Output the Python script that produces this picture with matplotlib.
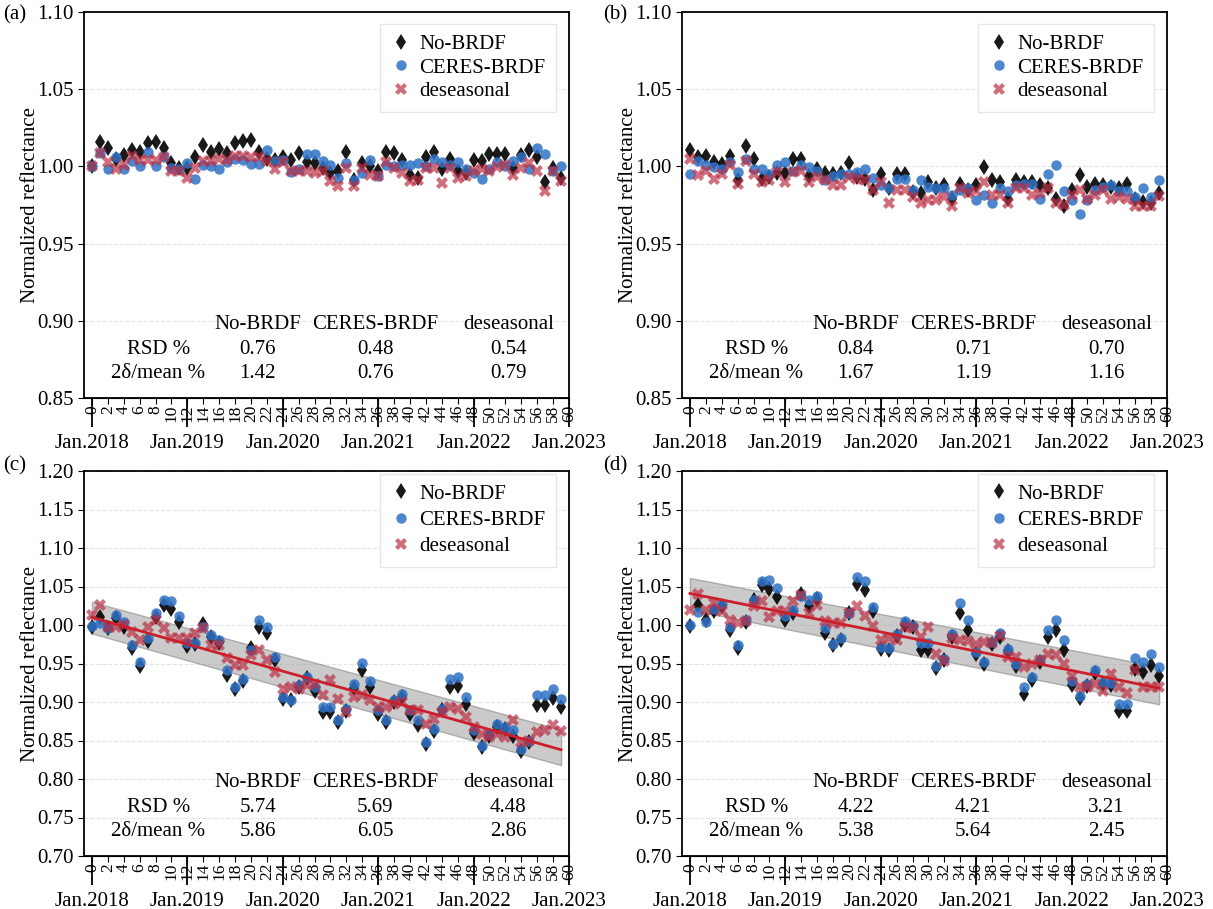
import numpy as np
import matplotlib
matplotlib.use("Agg")
from matplotlib import pyplot as plt
from matplotlib.patches import Rectangle

plt.rcParams['font.family'] = ['Liberation Serif', 'DejaVu Serif']

# month index 0..59 (Jan.2018 .. Dec.2022)
months = np.arange(60)

# ---- panel (a) ----
a_nobrdf = [1.000, 1.0156, 1.0122, 1.005, 1.0075, 1.0103, 1.0096, 1.015, 1.0156, 1.0118,
            1.002, 0.999, 0.999, 1.006, 1.014, 1.0096, 1.011, 1.009, 1.015, 1.0165,
            1.017, 1.0096, 1.005, 1.004, 1.006, 1.004, 1.009, 1.003, 1.002, 0.999,
            0.996, 0.997, 1.0096, 0.9915, 1.002, 1.000, 0.997, 1.0096, 1.0085, 1.004,
            0.9947, 0.9925, 1.006, 1.0096, 0.998, 1.005, 0.9968, 0.996, 1.004, 1.0036,
            1.008, 1.008, 1.008, 0.999, 1.0075, 1.0107, 1.0064, 0.990, 0.999, 0.9925]
a_ceres = [1.000, 1.0085, 0.998, 1.006, 0.998, 1.0036, 1.000, 1.0096, 1.000, 1.006,
           0.999, 0.998, 1.002, 0.992, 1.001, 1.000, 0.998, 1.003, 1.005, 1.004,
           1.0015, 1.0015, 1.0107, 1.0036, 1.004, 0.9964, 0.998, 1.008, 1.008, 1.0036,
           1.001, 0.9925, 1.002, 0.9915, 0.9957, 1.004, 0.9936, 1.001, 1.000, 1.0006,
           1.001, 1.002, 1.000, 1.005, 1.003, 1.0006, 1.003, 0.998, 0.9957, 0.992,
           0.998, 1.003, 1.000, 1.0036, 1.006, 0.998, 1.012, 1.008, 0.997, 1.000]
a_deseason = [1.000, 1.0085, 1.003, 0.998, 1.001, 1.007, 1.004, 1.004, 1.004, 1.006,
              0.997, 0.9968, 0.9925, 0.999, 1.0036, 1.0036, 1.005, 1.004, 1.007, 1.007,
              1.006, 1.006, 1.0036, 0.998, 1.003, 0.9968, 0.997, 0.9968, 0.9957, 0.9968,
              0.9904, 0.987, 0.999, 0.987, 0.999, 0.9947, 0.9936, 1.003, 0.999, 0.9957,
              0.9904, 0.9915, 0.999, 0.999, 0.989, 0.999, 0.9925, 0.9936, 0.9968, 0.998,
              0.9968, 0.9994, 1.001, 0.9947, 0.999, 1.002, 0.997, 0.984, 0.9968, 0.9904]

# ---- panel (b) ----
b_nobrdf = [1.0103, 1.006, 1.007, 1.003, 1.0017, 1.007, 0.991, 1.0135, 1.005, 0.992,
            0.993, 0.996, 0.996, 1.005, 1.005, 0.994, 0.9985, 0.996, 0.995, 0.996,
            1.002, 0.993, 0.992, 0.9846, 0.995, 0.9857, 0.995, 0.995, 0.9835, 0.9825,
            0.990, 0.9857, 0.9878, 0.979, 0.9889, 0.9846, 0.9878, 0.9996, 0.991, 0.990,
            0.979, 0.991, 0.990, 0.990, 0.9878, 0.9857, 0.979, 0.9746, 0.9846, 0.9947,
            0.9868, 0.9889, 0.9882, 0.9868, 0.9857, 0.9889, 0.979, 0.977, 0.976, 0.9825]
b_ceres = [0.9953, 1.0038, 1.0006, 0.9996, 0.9985, 1.003, 0.9964, 1.005, 0.9985, 0.9985,
           0.9953, 1.0006, 1.003, 0.997, 1.0006, 0.9996, 0.997, 0.991, 0.994, 0.9953,
           0.9953, 0.9964, 0.998, 0.9925, 0.9878, 0.986, 0.992, 0.9917, 0.985, 0.991,
           0.9868, 0.9857, 0.986, 0.9814, 0.9846, 0.9857, 0.978, 0.9814, 0.976, 0.986,
           0.984, 0.9878, 0.9889, 0.9889, 0.979, 0.9953, 1.0006, 0.984, 0.978, 0.969,
           0.978, 0.9846, 0.9868, 0.988, 0.984, 0.984, 0.980, 0.9857, 0.980, 0.9915]
b_deseason = [1.005, 0.9947, 0.997, 0.992, 0.9953, 1.0006, 0.9889, 1.0038, 0.9953, 0.990,
              0.991, 0.9964, 0.990, 0.9964, 0.997, 0.990, 0.993, 0.991, 0.9878, 0.9878,
              0.993, 0.992, 0.991, 0.9846, 0.990, 0.976, 0.9846, 0.9846, 0.980, 0.976,
              0.978, 0.978, 0.980, 0.9746, 0.9857, 0.9825, 0.984, 0.990, 0.9814, 0.9814,
              0.976, 0.9857, 0.9857, 0.9814, 0.9825, 0.9857, 0.976, 0.975, 0.9814, 0.9846,
              0.979, 0.9814, 0.9846, 0.979, 0.980, 0.979, 0.9746, 0.9746, 0.9746, 0.981]

# ---- panel (c) ----
c_nobrdf = [0.998, 1.010, 0.996, 1.009, 0.998, 0.970, 0.947, 0.979, 1.010, 1.026,
            1.021, 1.004, 0.973, 0.975, 1.001, 0.985, 0.977, 0.935, 0.917, 0.927,
            0.970, 0.998, 0.990, 0.955, 0.904, 0.902, 0.920, 0.931, 0.914, 0.887,
            0.887, 0.874, 0.888, 0.918, 0.941, 0.920, 0.885, 0.874, 0.900, 0.906,
            0.885, 0.870, 0.845, 0.862, 0.889, 0.920, 0.921, 0.897, 0.860, 0.842,
            0.856, 0.868, 0.865, 0.856, 0.836, 0.848, 0.896, 0.896, 0.905, 0.893]
c_ceres = [0.9987, 1.002, 0.9957, 1.013, 1.0035, 0.974, 0.952, 0.983, 1.015, 1.033,
           1.031, 1.012, 0.976, 0.977, 0.998, 0.987, 0.980, 0.941, 0.920, 0.930,
           0.967, 1.006, 0.998, 0.959, 0.907, 0.903, 0.922, 0.933, 0.920, 0.893,
           0.893, 0.876, 0.891, 0.924, 0.951, 0.927, 0.889, 0.876, 0.902, 0.910,
           0.889, 0.876, 0.848, 0.865, 0.891, 0.930, 0.933, 0.907, 0.863, 0.843,
           0.859, 0.872, 0.867, 0.864, 0.839, 0.849, 0.909, 0.909, 0.917, 0.904]
c_deseason = [1.013, 1.026, 0.998, 0.998, 1.000, 0.991, 0.980, 0.998, 1.006, 0.996,
              0.983, 0.983, 0.983, 0.989, 0.996, 0.974, 0.974, 0.957, 0.948, 0.948,
              0.961, 0.967, 0.954, 0.939, 0.917, 0.920, 0.917, 0.922, 0.924, 0.909,
              0.928, 0.904, 0.887, 0.906, 0.909, 0.902, 0.893, 0.893, 0.898, 0.900,
              0.889, 0.889, 0.872, 0.878, 0.887, 0.893, 0.891, 0.880, 0.867, 0.859,
              0.854, 0.859, 0.854, 0.876, 0.848, 0.850, 0.861, 0.863, 0.870, 0.862]
c_trend = [1.010, 0.838]          # fitted line at first / last month
c_band_hi = [1.030, 0.864]
c_band_lo = [0.989, 0.818]

# ---- panel (d) ----
d_nobrdf = [0.999, 1.026, 1.007, 1.018, 1.025, 0.993, 0.970, 1.004, 1.032, 1.052,
            1.047, 1.036, 1.006, 1.016, 1.040, 1.025, 1.034, 0.990, 0.974, 0.981,
            1.016, 1.053, 1.045, 1.018, 0.969, 0.968, 0.986, 1.000, 0.997, 0.967,
            0.967, 0.944, 0.955, 0.984, 1.016, 0.994, 0.962, 0.950, 0.975, 0.984,
            0.966, 0.947, 0.911, 0.929, 0.952, 0.984, 0.993, 0.968, 0.922, 0.905,
            0.921, 0.938, 0.924, 0.922, 0.888, 0.888, 0.943, 0.939, 0.948, 0.934]
d_ceres = [1.000, 1.017, 1.004, 1.021, 1.027, 0.997, 0.974, 1.007, 1.033, 1.057,
           1.058, 1.048, 1.012, 1.019, 1.038, 1.032, 1.038, 0.996, 0.975, 0.983,
           1.016, 1.062, 1.057, 1.023, 0.971, 0.970, 0.988, 1.005, 0.999, 0.976,
           0.977, 0.947, 0.956, 0.988, 1.029, 1.007, 0.965, 0.952, 0.978, 0.990,
           0.969, 0.949, 0.920, 0.932, 0.955, 0.994, 1.006, 0.981, 0.927, 0.908,
           0.923, 0.942, 0.926, 0.925, 0.897, 0.897, 0.957, 0.952, 0.962, 0.945]
d_deseason = [1.020, 1.040, 1.020, 1.028, 1.018, 1.007, 1.003, 1.005, 1.025, 1.031,
              1.010, 1.018, 1.018, 1.031, 1.039, 1.016, 1.026, 1.005, 1.003, 1.003,
              1.016, 1.025, 1.012, 0.999, 0.981, 0.983, 0.981, 0.997, 0.996, 0.984,
              0.997, 0.962, 0.953, 0.983, 0.981, 0.979, 0.975, 0.978, 0.977, 0.986,
              0.958, 0.958, 0.945, 0.949, 0.954, 0.962, 0.961, 0.949, 0.934, 0.919,
              0.919, 0.923, 0.914, 0.936, 0.919, 0.912, 0.942, 0.919, 0.919, 0.920]
d_trend = [1.041, 0.918]
d_band_hi = [1.061, 0.946]
d_band_lo = [1.020, 0.897]

stats_a = [["0.76", "0.48", "0.54"], ["1.42", "0.76", "0.79"]]
stats_b = [["0.84", "0.71", "0.70"], ["1.67", "1.19", "1.16"]]
stats_c = [["5.74", "5.69", "4.48"], ["5.86", "6.05", "2.86"]]
stats_d = [["4.22", "4.21", "3.21"], ["5.38", "5.64", "2.45"]]

series_names = ["No-BRDF", "CERES-BRDF", "deseasonal"]
row_names = ["RSD %", "2δ/mean %"]
jan_pos = [0, 12, 24, 36, 48, 60]
jan_labels = ["Jan.2018", "Jan.2019", "Jan.2020", "Jan.2021", "Jan.2022", "Jan.2023"]

BLUE = '#2f72c6'
RED = '#bb3044'
FS = 15

fig = plt.figure(figsize=(12.13, 9.09), dpi=100)
W, H = 1213, 909


def make_ax(left, top, right, bottom):
    return fig.add_axes([left / W, 1 - bottom / H, (right - left) / W, (bottom - top) / H])


def panel(ax, nob, cer, des, stats, ylim, yt, trend=None, hi=None, lo=None,
          leg_y=0.996, leg_sp=0.2):
    if trend is not None:
        ends = [months[0], months[-1]]
        ax.fill_between(ends, lo, hi, facecolor='#a0a0a0', edgecolor='#808080',
                        alpha=0.55, lw=1.0, zorder=1)
        ax.plot(ends, trend, color='#cc1f2c', lw=2.0, zorder=5)
    ax.plot(months, nob, 'd', color='k', ms=8.5, mew=0, alpha=0.9, label="No-BRDF", zorder=2)
    ax.plot(months, cer, 'o', color=BLUE, ms=7.5, mew=0, alpha=0.85, label="CERES-BRDF", zorder=3)
    ax.plot(months, des, 'X', color=RED, ms=8, mew=0, alpha=0.7, label="deseasonal", zorder=4)

    ax.set_xlim(-1, 60)
    ax.set_ylim(*ylim)
    ax.set_yticks(yt)
    ax.set_yticklabels([f"{v:.2f}" for v in yt])
    ax.set_xticks(np.arange(0, 61, 2))
    ax.tick_params(axis='x', labelrotation=90, labelsize=12.5, length=4, pad=1)
    ax.tick_params(axis='y', labelsize=FS, length=4)
    ax.yaxis.grid(True, color='#e4e4e4', ls='--', lw=0.8)
    ax.set_axisbelow(True)
    for s in ax.spines.values():
        s.set_linewidth(1.3)
    ax.set_ylabel("Normalized reflectance", fontsize=FS, labelpad=-2)

    sec = ax.secondary_xaxis('bottom')
    sec.set_xticks(jan_pos, jan_labels)
    sec.tick_params(length=21, width=1.3, pad=5, labelsize=FS)

    leg = ax.legend(loc='upper right', bbox_to_anchor=(0.995, leg_y), fontsize=FS,
                    frameon=True, fancybox=False, edgecolor='#e6e6e6', framealpha=1,
                    handlelength=1.0, handletextpad=0.4, labelspacing=leg_sp,
                    borderpad=0.5)
    leg.set_zorder(10)

    # white block behind the statistics table
    ax.add_patch(Rectangle((0.12, 0.02), 0.87, 0.22, transform=ax.transAxes,
                           facecolor='white', edgecolor='none', zorder=0.5))
    cols = [0.358, 0.60, 0.875]
    for cx, name in zip(cols, series_names):
        ax.text(cx, 0.19, name, transform=ax.transAxes, ha='center', va='center',
                fontsize=FS, zorder=11)
    for ry, rname, vals in zip([0.125, 0.063], row_names, stats):
        ax.text(0.153, ry, rname, transform=ax.transAxes, ha='center', va='center',
                fontsize=FS, zorder=11)
        for cx, v in zip(cols, vals):
            ax.text(cx, ry, v, transform=ax.transAxes, ha='center', va='center',
                    fontsize=FS, zorder=11)


yt_top = np.arange(0.85, 1.1001, 0.05)
yt_bot = np.arange(0.70, 1.2001, 0.05)

ax_a = make_ax(84, 12, 569, 398)
ax_b = make_ax(682, 12, 1167, 398)
ax_c = make_ax(84, 471, 569, 856)
ax_d = make_ax(682, 471, 1167, 856)

panel(ax_a, a_nobrdf, a_ceres, a_deseason, stats_a, (0.85, 1.10), yt_top)
panel(ax_b, b_nobrdf, b_ceres, b_deseason, stats_b, (0.85, 1.10), yt_top)
panel(ax_c, c_nobrdf, c_ceres, c_deseason, stats_c, (0.70, 1.20), yt_bot,
      c_trend, c_band_hi, c_band_lo, leg_y=1.02, leg_sp=0.32)
panel(ax_d, d_nobrdf, d_ceres, d_deseason, stats_d, (0.70, 1.20), yt_bot,
      d_trend, d_band_hi, d_band_lo, leg_y=1.02, leg_sp=0.32)

for lab, x, y in [("(a)", 3, 15), ("(b)", 603, 15), ("(c)", 3, 466), ("(d)", 603, 466)]:
    fig.text(x / W, 1 - y / H, lab, fontsize=FS, ha='left', va='center')

fig.savefig("out.png", dpi=100)
